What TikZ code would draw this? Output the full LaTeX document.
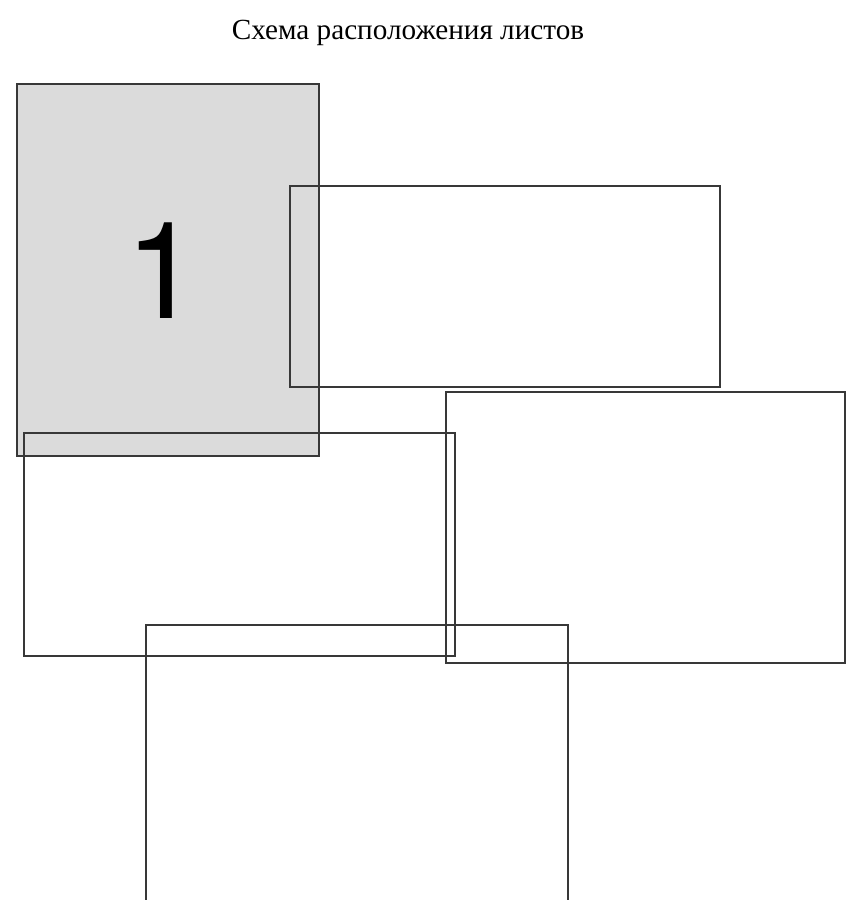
\documentclass[tikz,border=0pt]{standalone}
\usepackage{fontspec}
\setmainfont{Liberation Serif}
\setsansfont{TeX Gyre Heros}
\begin{document}
\begin{tikzpicture}[x=1pt,y=-1pt,
  sheet/.style={draw=black!78,line width=1.1pt},
  shaded/.style={sheet,fill=black!14}]
\useasboundingbox[fill=white] (0,0) rectangle (861,900);
\node[font=\fontsize{29.2}{32}\selectfont,anchor=base] (title) at (408,39) {Схема расположения листов};
\draw[shaded] (17,84) rectangle (319,456);
\node[font=\sffamily\fontsize{135}{140}\selectfont,anchor=base,inner sep=0pt] (one) at (163,318) {1};
\draw[sheet] (290,186) rectangle (720,387);
\draw[sheet] (446,392) rectangle (845,663);
\draw[sheet] (24,433) rectangle (455,656);
\draw[sheet] (146,902) -- (146,625) -- (568,625) -- (568,902);
\end{tikzpicture}
\end{document}
